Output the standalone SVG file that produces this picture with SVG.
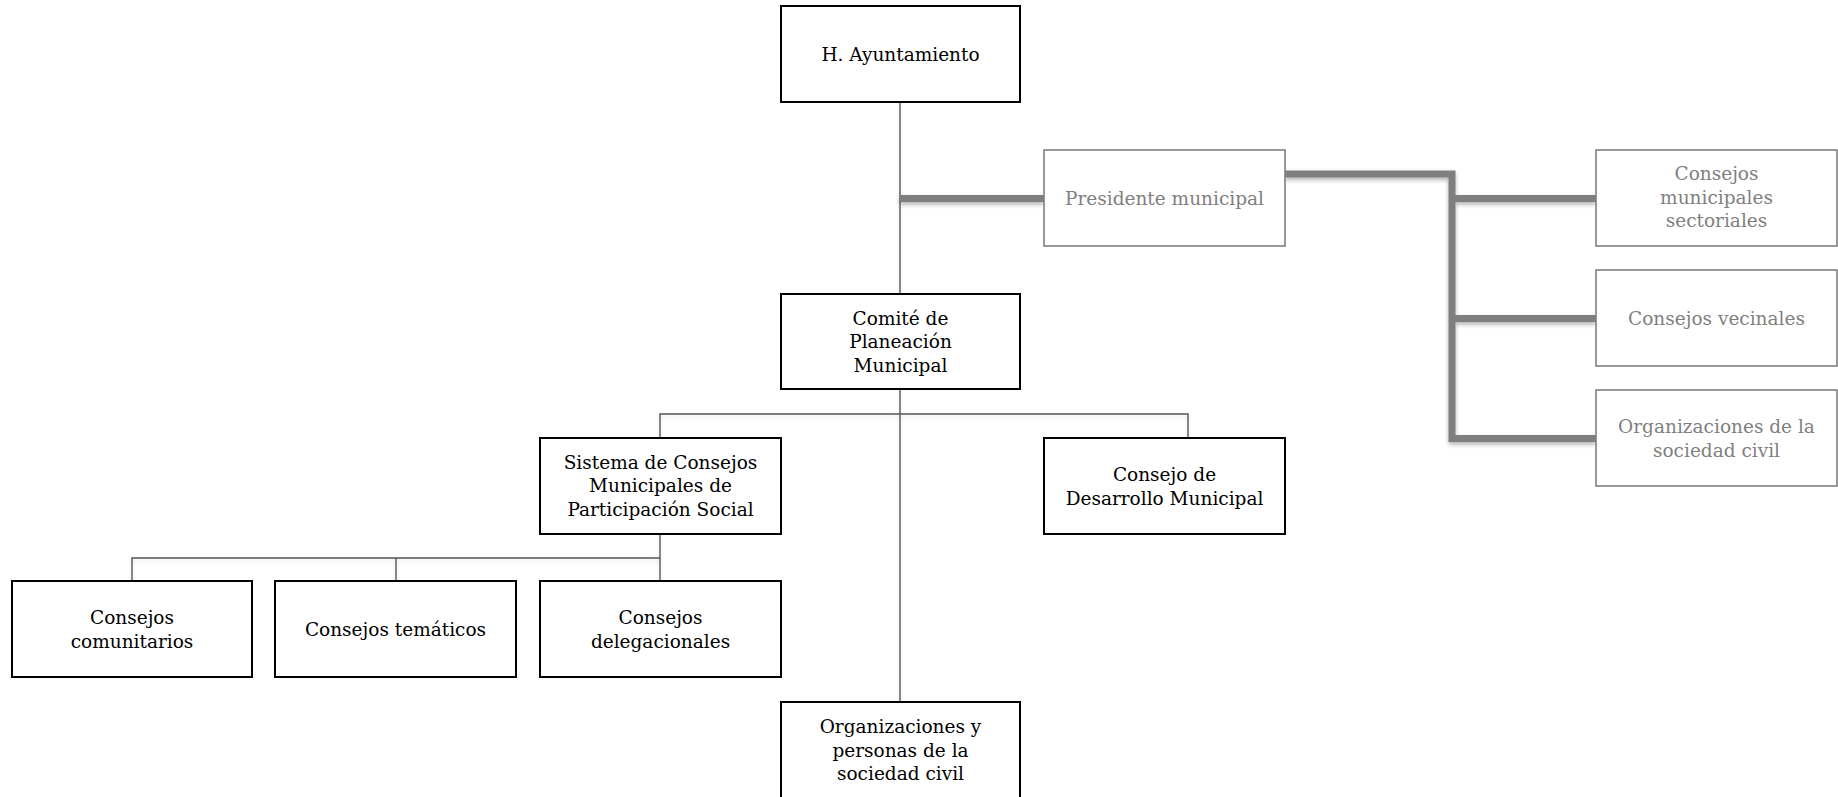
<svg xmlns="http://www.w3.org/2000/svg" width="1838" height="797" viewBox="0 0 1838 797">
<style>
  .box { fill: #ffffff; stroke: #000000; stroke-width: 2; }
  .gbox { fill: #ffffff; stroke: #7f7f7f; stroke-width: 1.6; }
  .t { font-family: "DejaVu Serif", "Liberation Serif", serif; font-size: 18.5px; fill: #000000; text-anchor: middle; }
  .gt { font-family: "DejaVu Serif", "Liberation Serif", serif; font-size: 18.5px; fill: #808080; text-anchor: middle; }
  .thin { fill: none; stroke: #555555; stroke-width: 1.4; }
  .thick { fill: none; stroke: #7f7f7f; stroke-width: 7; }
</style>
<defs>
  <filter id="sh" x="-10%" y="-50%" width="120%" height="200%">
    <feDropShadow dx="0" dy="2.5" stdDeviation="2" flood-color="#000" flood-opacity="0.3"/>
  </filter>
  <filter id="shl" x="-10%" y="-50%" width="120%" height="200%">
    <feDropShadow dx="0" dy="2" stdDeviation="2" flood-color="#000" flood-opacity="0.12"/>
  </filter>
</defs>
<rect width="1838" height="797" fill="#ffffff"/>
<g id="connectors">
  <g filter="url(#shl)">
    <path class="thin" d="M900,102 V702"/>
    <path class="thin" d="M660,438 V414 H1188 V438"/>
    <path class="thin" d="M660,534 V581"/>
    <path class="thin" d="M132,581 V558 H660"/>
    <path class="thin" d="M396,558 V581"/>
  </g>
  <g filter="url(#sh)">
    <path class="thick" d="M900,198.5 H1044"/>
    <path class="thick" d="M1285,174 H1452 V438.5 H1596"/>
    <path class="thick" d="M1452,198.5 H1596"/>
    <path class="thick" d="M1452,318.5 H1596"/>
  </g>
</g>
<g id="n-ayuntamiento">
  <rect class="box" x="781" y="6" width="239" height="96"/>
  <text class="t" x="900.5" y="60.5">H. Ayuntamiento</text>
</g>
<g id="n-presidente">
  <rect class="gbox" x="1044" y="150" width="241" height="96"/>
  <text class="gt" x="1164.5" y="204.5">Presidente municipal</text>
</g>
<g id="n-comite">
  <rect class="box" x="781" y="294" width="239" height="95"/>
  <text class="t" x="900.5" y="324.5">Comité de</text>
  <text class="t" x="900.5" y="348">Planeación</text>
  <text class="t" x="900.5" y="371.5">Municipal</text>
</g>
<g id="n-sistema">
  <rect class="box" x="540" y="438" width="241" height="96"/>
  <text class="t" x="660.5" y="468.5">Sistema de Consejos</text>
  <text class="t" x="660.5" y="492">Municipales de</text>
  <text class="t" x="660.5" y="515.5">Participación Social</text>
</g>
<g id="n-desarrollo">
  <rect class="box" x="1044" y="438" width="241" height="96"/>
  <text class="t" x="1164.5" y="481">Consejo de</text>
  <text class="t" x="1164.5" y="504.5">Desarrollo Municipal</text>
</g>
<g id="n-comunitarios">
  <rect class="box" x="12" y="581" width="240" height="96"/>
  <text class="t" x="132" y="624">Consejos</text>
  <text class="t" x="132" y="647.5">comunitarios</text>
</g>
<g id="n-tematicos">
  <rect class="box" x="275" y="581" width="241" height="96"/>
  <text class="t" x="395.5" y="635.5">Consejos temáticos</text>
</g>
<g id="n-delegacionales">
  <rect class="box" x="540" y="581" width="241" height="96"/>
  <text class="t" x="660.5" y="624">Consejos</text>
  <text class="t" x="660.5" y="647.5">delegacionales</text>
</g>
<g id="n-organizaciones">
  <rect class="box" x="781" y="702" width="239" height="96"/>
  <text class="t" x="900.5" y="733">Organizaciones y</text>
  <text class="t" x="900.5" y="756.5">personas de la</text>
  <text class="t" x="900.5" y="780">sociedad civil</text>
</g>
<g id="n-sectoriales">
  <rect class="gbox" x="1596" y="150" width="241" height="96"/>
  <text class="gt" x="1716.5" y="180">Consejos</text>
  <text class="gt" x="1716.5" y="203.5">municipales</text>
  <text class="gt" x="1716.5" y="227">sectoriales</text>
</g>
<g id="n-vecinales">
  <rect class="gbox" x="1596" y="270" width="241" height="96"/>
  <text class="gt" x="1716.5" y="324.5">Consejos vecinales</text>
</g>
<g id="n-osc">
  <rect class="gbox" x="1596" y="390" width="241" height="96"/>
  <text class="gt" x="1716.5" y="433">Organizaciones de la</text>
  <text class="gt" x="1716.5" y="456.5">sociedad civil</text>
</g>
</svg>
